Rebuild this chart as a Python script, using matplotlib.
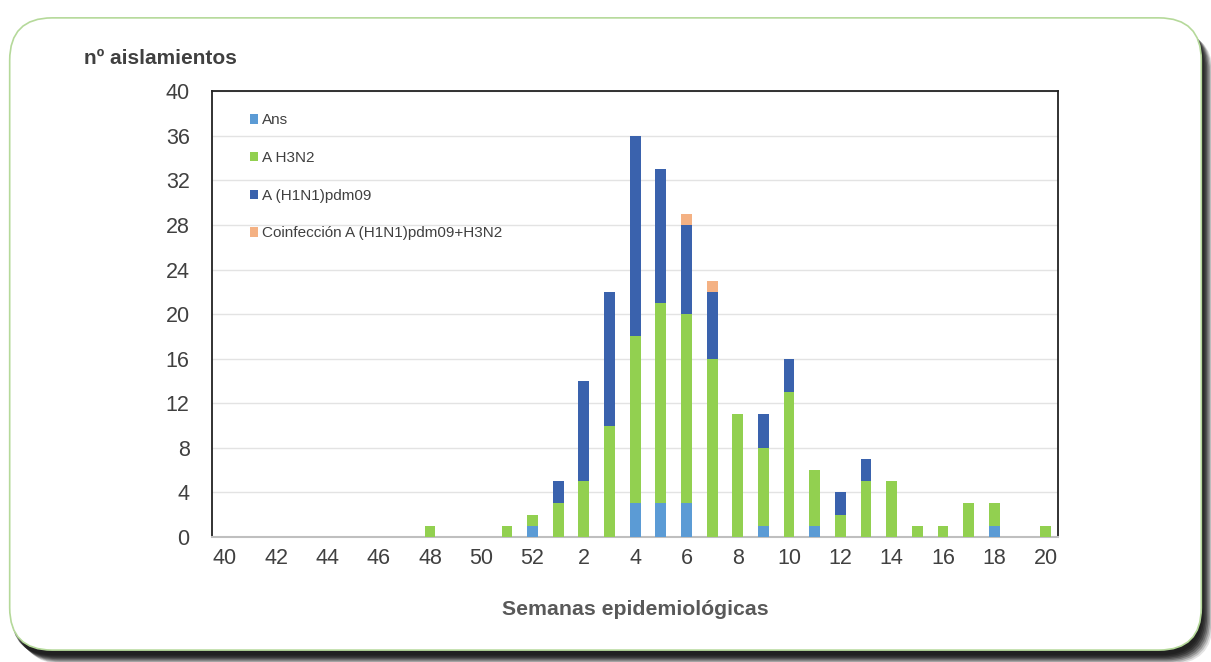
import matplotlib
matplotlib.use("Agg")
import matplotlib.pyplot as plt
import matplotlib.patches as patches
import numpy as np

plt.rcParams['font.family'] = ['Liberation Sans', 'DejaVu Sans']

# Semanas 40-52 y 1-20
weeks = list(range(40, 53)) + list(range(1, 21))
ans = [0]*12 + [1] + [0, 0, 0, 3, 3, 3, 0, 0, 1, 0, 1, 0, 0, 0, 0, 0, 0, 1, 0, 0]
h3n2 = [0]*8 + [1, 0, 0, 1, 1] + [3, 5, 10, 15, 18, 17, 16, 11, 7, 13, 5, 2, 5, 5, 1, 1, 3, 2, 0, 1]
h1n1 = [0]*13 + [2, 9, 12, 18, 12, 8, 6, 0, 3, 3, 0, 2, 2, 0, 0, 0, 0, 0, 0, 0]
coinf = [0]*13 + [0, 0, 0, 0, 0, 1, 1, 0, 0, 0, 0, 0, 0, 0, 0, 0, 0, 0, 0, 0]

series_names = ["Ans", "A H3N2", "A (H1N1)pdm09", "Coinfección A (H1N1)pdm09+H3N2"]
colors = ["#5B9BD5", "#92D050", "#3A62AD", "#F4B183"]

fig = plt.figure(figsize=(12.11, 6.62), dpi=100)

# rounded frame with shadow
for i in range(8):
    off = 0.0012 * (8 - i)
    fig.patches.append(patches.FancyBboxPatch(
        (0.008 + off, 0.012 - off * 1.6), 0.984, 0.955,
        boxstyle="round,pad=0,rounding_size=0.035", transform=fig.transFigure,
        fc=(0.1, 0.1, 0.1, 0.12 + 0.06 * i), ec="none", zorder=0,
        mutation_aspect=1.83))
fig.patches.append(patches.FancyBboxPatch(
    (0.008, 0.018), 0.984, 0.955,
    boxstyle="round,pad=0,rounding_size=0.035", transform=fig.transFigure,
    fc="white", ec="#B5D99A", lw=1.2, zorder=1, mutation_aspect=1.83))

ax = fig.add_axes([0.175, 0.189, 0.699, 0.673])
ax.set_zorder(2)
x = np.arange(len(weeks))
bottom = np.zeros(len(weeks))
for vals, name, c in zip([ans, h3n2, h1n1, coinf], series_names, colors):
    ax.bar(x, vals, width=0.42, bottom=bottom, color=c, label=name,
           linewidth=0, zorder=3)
    bottom += np.array(vals)

ax.set_xlim(-0.5, len(weeks) - 0.5)
ax.set_ylim(0, 40)
ax.set_yticks(range(0, 41, 4))
ax.set_xticks(x[::2])
ax.set_xticklabels([str(w) for w in weeks[::2]])
ax.tick_params(axis="both", length=0, labelsize=15.5, colors="#404040")
ax.tick_params(axis="y", pad=16)
ax.tick_params(axis="x", pad=8)
ax.yaxis.grid(True, color="#E3E3E3", lw=1, zorder=0)
ax.set_axisbelow(True)
for s in ["left", "top", "right"]:
    ax.spines[s].set_color("#222222")
    ax.spines[s].set_linewidth(1.3)
ax.spines["bottom"].set_color("#BFBFBF")
ax.spines["bottom"].set_linewidth(1.5)

ax.set_xlabel("Semanas epidemiológicas", fontsize=15.3, fontweight="bold",
              color="#595959", labelpad=22)
fig.text(0.069, 0.912, "nº aislamientos", fontsize=15, fontweight="bold",
         color="#404040", ha="left", va="center")

leg = ax.legend(loc="upper left", bbox_to_anchor=(0.027, 0.985), frameon=False,
                fontsize=11, handlelength=0.55, handleheight=0.55,
                handletextpad=0.25, labelspacing=1.55, borderaxespad=0.6)
for t in leg.get_texts():
    t.set_color("#404040")

fig.savefig("out.png", dpi=100)
